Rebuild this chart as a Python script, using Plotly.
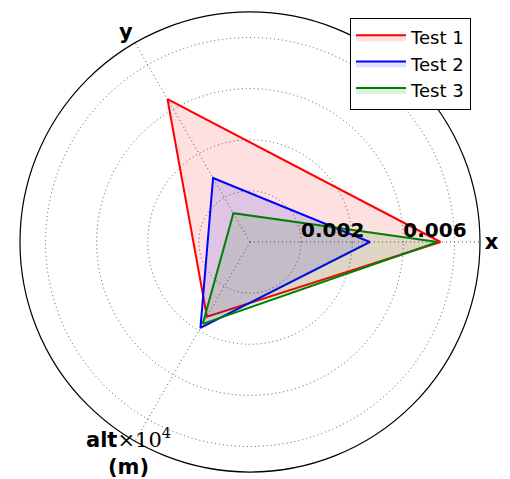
import math
import plotly.graph_objects as go

axis_labels = ["x", "y", ""]
alt_label = "<b>alt</b><span style=\"font-family:'DejaVu Serif';font-weight:normal\">×10<sup>4</sup></span><br><b>(m)</b>"
axis_angles = [0, 120, 240]
series_names = ["Test 1", "Test 2", "Test 3"]
series_values = {
    "Test 1": [0.00746, 0.00646, 0.00337],
    "Test 2": [0.00469, 0.00289, 0.00388],
    "Test 3": [0.00735, 0.00130, 0.00370],
}
series_colors = {"Test 1": "#ff0000", "Test 2": "#0000ff", "Test 3": "#008000"}
series_fills = {"Test 1": "rgba(255,0,0,0.12)", "Test 2": "rgba(0,0,255,0.12)", "Test 3": "rgba(0,128,0,0.12)"}
radial_grid = [0.002, 0.004, 0.006, 0.008]
radial_labels_shown = [0.002, 0.006]
r_max = 0.009
alt_label_r = 0.00947

# page body has an 8px margin; compensate in pixel placement
OFF = 8
W, H = 510, 479
CX, CY, RAD = 250 - OFF, 242 - OFF, 230  # polar centre / radius in page pixels

fig = go.Figure()
for name in series_names:
    vals = series_values[name]
    fig.add_trace(go.Scatterpolar(
        r=vals + [vals[0]],
        theta=axis_angles + [axis_angles[0]],
        mode="lines",
        name=name,
        line=dict(color=series_colors[name], width=2),
        fill="toself",
        fillcolor=series_fills[name],
    ))

fig.add_trace(go.Scatterpolar(
    r=radial_labels_shown,
    theta=[0] * len(radial_labels_shown),
    mode="text",
    text=[f"{v:.3f}" for v in radial_labels_shown],
    textposition="top right",
    textfont=dict(family="DejaVu Sans", size=20, color="black", weight="bold"),
    showlegend=False,
    hoverinfo="skip",
))

# alt axis label (two lines) placed just outside the frame at the alt axis angle
ang = math.radians(axis_angles[2])
lab_px = CX + RAD * alt_label_r / r_max * math.cos(ang)
lab_py = CY - RAD * alt_label_r / r_max * math.sin(ang)
fig.add_annotation(
    x=lab_px / W, y=1 - lab_py / H, xref="paper", yref="paper",
    text=alt_label, showarrow=False, xanchor="center", yanchor="middle", align="center",
    font=dict(family="DejaVu Sans", size=21, color="black"),
)

fig.update_layout(
    width=W, height=H,
    margin=dict(l=0, r=0, t=0, b=0),
    paper_bgcolor="white",
    font=dict(family="DejaVu Sans", color="black"),
    polar=dict(
        domain=dict(x=[(CX - RAD)/W, (CX + RAD)/W], y=[1-(CY + RAD)/H, 1-(CY - RAD)/H]),
        bgcolor="white",
        radialaxis=dict(
            range=[0, r_max], tickvals=radial_grid, showticklabels=False,
            ticks="", showline=False, gridcolor="#555555", griddash="1px,3px", gridwidth=1,
            angle=0,
        ),
        angularaxis=dict(
            thetaunit="degrees", direction="counterclockwise", rotation=0,
            tickvals=axis_angles, ticktext=axis_labels, ticks="",
            tickfont=dict(family="DejaVu Sans", size=21, color="black", weight="bold"),
            showline=True, linecolor="black", linewidth=1.2,
            gridcolor="#555555", griddash="1px,3px", gridwidth=1,
        ),
    ),
    legend=dict(
        x=(350 - OFF)/W, y=1-(18 - OFF)/H, xanchor="left", yanchor="top",
        bordercolor="black", borderwidth=1, bgcolor="white",
        font=dict(family="DejaVu Sans", size=18, color="black"),
        itemwidth=50,
    ),
)

fig.write_html("out.html")
